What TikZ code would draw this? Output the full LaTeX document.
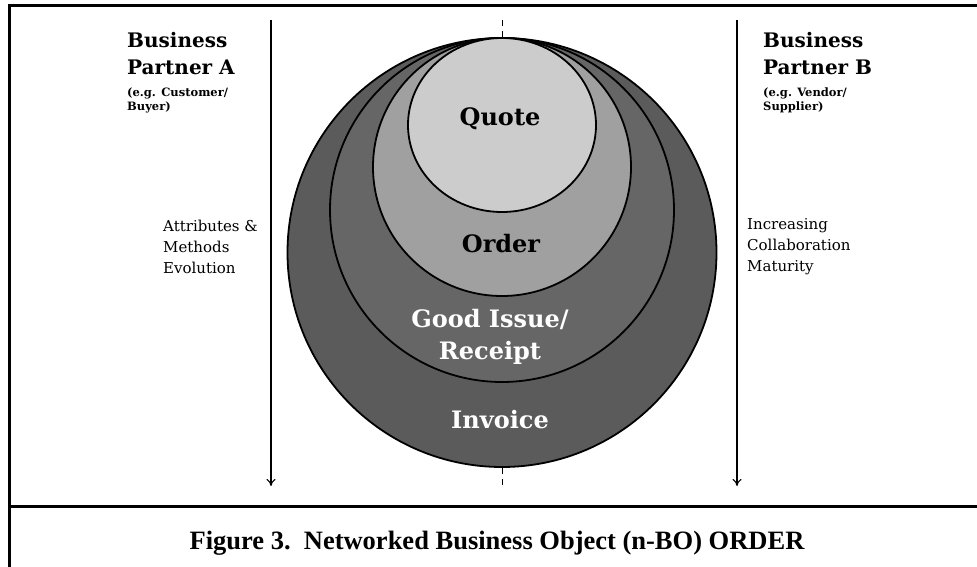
\documentclass[tikz,border=0pt]{standalone}
\usepackage{fontspec}
\setmainfont{DejaVu Serif}
\newfontfamily\capfont{Liberation Serif}
\usetikzlibrary{arrows.meta}

\definecolor{invoicegray}{HTML}{5B5B5B}
\definecolor{receiptgray}{HTML}{666666}
\definecolor{ordergray}{HTML}{A0A0A0}
\definecolor{quotegray}{HTML}{CCCCCC}

\tikzset{
  ring/.style={draw=black, line width=1.8pt},
  partner/.style={align=left, inner sep=0pt, font=\fontsize{20}{27}\selectfont\bfseries},
  example/.style={align=left, inner sep=0pt, font=\fontsize{11.5}{14}\selectfont\bfseries},
  side/.style={align=left, inner sep=0pt, font=\fontsize{15}{21}\selectfont},
  stage/.style={align=center, inner sep=0pt, font=\fontsize{24}{32}\selectfont\bfseries},
  flow/.style={line width=1.1pt, -{To[length=7pt, width=9pt]}},
  axis/.style={line width=1pt, dash pattern=on 6pt off 5pt}
}

\begin{document}
\begin{tikzpicture}[x=1pt, y=-1pt]
  \useasboundingbox (0,0) rectangle (977,567);

  % frame and caption rule
  \draw[line width=3pt] (9,567) -- (9,5.5) -- (977,5.5);
  \draw[line width=3pt] (9,506) -- (977,506);

  % nested stages
  \filldraw[ring, fill=invoicegray] (502,252.5) circle (214.5pt);
  \filldraw[ring, fill=receiptgray] (502,210) circle (172pt);
  \filldraw[ring, fill=ordergray] (502,167) circle (129pt);
  \filldraw[ring, fill=quotegray] (502,125) ellipse [x radius=94pt, y radius=87pt];

  % centre axis
  \coordinate (axistop) at (502,20);
  \coordinate (ringtop) at (502,38);
  \coordinate (ringbot) at (502,468);
  \coordinate (axisbot) at (502,487);
  \draw[axis] (axistop) -- (ringtop);
  \draw[axis] (ringbot) -- (axisbot);

  % evolution arrows
  \coordinate (leftstart) at (271,20);
  \coordinate (leftend) at (271,486);
  \coordinate (rightstart) at (737,20);
  \coordinate (rightend) at (737,486);
  \draw[flow] (leftstart) -- (leftend);
  \draw[flow] (rightstart) -- (rightend);

  % partners (base = last line)
  \node[partner, anchor=base west] (partnerA) at (127,75) {Business\\Partner A};
  \node[example, anchor=base west] (exampleA) at (127,111) {(e.g. Customer/\\Buyer)};
  \node[partner, anchor=base west] (partnerB) at (763,75) {Business\\Partner B};
  \node[example, anchor=base west] (exampleB) at (763,111) {(e.g. Vendor/\\Supplier)};

  \node[side, anchor=base west] (attributes) at (163,273) {Attributes \&\\Methods\\Evolution};
  \node[side, anchor=base west] (maturity) at (747,271) {Increasing\\Collaboration\\Maturity};

  % stage labels
  \node[stage] (quote) at (500,119) {Quote};
  \node[stage] (order) at (501,244) {Order};
  \node[stage, text=white] (receipt) at (490,337) {Good Issue/\\Receipt};
  \node[stage, text=white] (invoice) at (500,420) {Invoice};

  % caption
  \node[font=\capfont\fontsize{26.5}{30}\selectfont\bfseries, anchor=base] (caption) at (497,549)
    {Figure 3.\ \ Networked Business Object (n-BO) ORDER};
\end{tikzpicture}
\end{document}
